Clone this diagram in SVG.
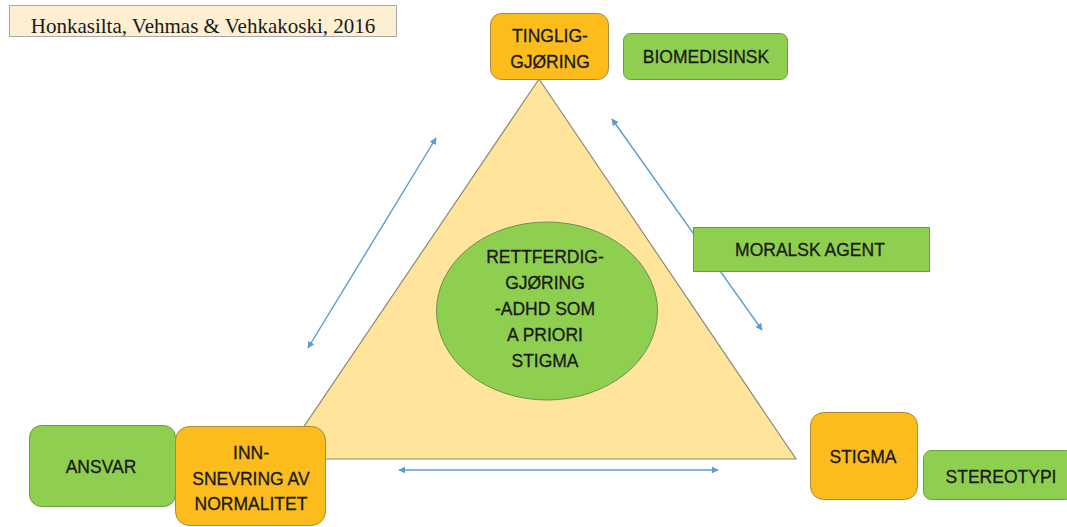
<svg xmlns="http://www.w3.org/2000/svg" width="1067" height="527" viewBox="0 0 1067 527">
  <defs>
    <marker id="head" viewBox="0 0 10 10" refX="9" refY="5" markerWidth="7" markerHeight="7" markerUnits="userSpaceOnUse" orient="auto-start-reverse">
      <path d="M0,0 L10,5 L0,10 z" fill="#5b9bd5"/>
    </marker>
  </defs>
  <style>
    .lbl { font-family: "Liberation Sans", Arial, sans-serif; font-size: 17.5px; fill: #1a1a1a; stroke: #1a1a1a; stroke-width: 0.3; text-anchor: middle; }
    .orange { fill: #fcbd1c; stroke: #a88a3a; stroke-width: 1; }
    .green { fill: #8fcf4f; stroke: #6f9a45; stroke-width: 1; }
    .arrow { stroke: #5b9bd5; stroke-width: 1.4; fill: none; marker-start: url(#head); marker-end: url(#head); }
  </style>
  <rect width="1067" height="527" fill="#ffffff"/>

  <!-- citation -->
  <g id="citation">
    <rect x="9.5" y="5.5" width="387" height="31" fill="#fdefd2" stroke="#a8a8a8" stroke-width="1"/>
    <text x="203" y="33" font-family="'Liberation Serif', 'Times New Roman', serif" font-size="21" fill="#1a1a1a" text-anchor="middle">Honkasilta, Vehmas &amp; Vehkakoski, 2016</text>
  </g>

  <!-- central triangle -->
  <g id="triangle">
    <polygon points="539,79 282,459 796,459" fill="#fee59b" stroke="#8f8a70" stroke-width="1.2"/>
  </g>

  <!-- centre ellipse -->
  <g id="center">
    <ellipse cx="547" cy="311" rx="110.5" ry="89" fill="#8fcf4f" stroke="#6f8f55" stroke-width="1"/>
    <text class="lbl" x="545" y="263">RETTFERDIG-</text>
    <text class="lbl" x="545" y="289">GJØRING</text>
    <text class="lbl" x="545" y="315">-ADHD SOM</text>
    <text class="lbl" x="545" y="341">A PRIORI</text>
    <text class="lbl" x="545" y="367">STIGMA</text>
  </g>

  <!-- connectors -->
  <g id="connectors">
    <line class="arrow" x1="308" y1="348" x2="436" y2="138"/>
    <line class="arrow" x1="612" y1="119" x2="762" y2="330"/>
    <line class="arrow" x1="399" y1="470" x2="718" y2="470"/>
  </g>

  <g id="tingliggjoring">
    <rect class="orange" x="490.5" y="13.5" width="118" height="66" rx="11"/>
    <text class="lbl" x="550" y="42">TINGLIG-</text>
    <text class="lbl" x="550" y="68">GJØRING</text>
  </g>

  <g id="biomedisinsk">
    <rect class="green" x="623.5" y="33.5" width="164" height="46" rx="7"/>
    <text class="lbl" x="706" y="63">BIOMEDISINSK</text>
  </g>

  <g id="moralsk-agent">
    <rect class="green" x="693.5" y="227.5" width="236" height="44"/>
    <text class="lbl" x="810" y="256">MORALSK AGENT</text>
  </g>

  <g id="ansvar">
    <rect class="green" x="29.5" y="425.5" width="146" height="81" rx="12"/>
    <text class="lbl" x="101" y="473">ANSVAR</text>
  </g>

  <g id="innsnevring">
    <rect class="orange" x="175.5" y="426.5" width="150" height="99" rx="14"/>
    <text class="lbl" x="251" y="459">INN-</text>
    <text class="lbl" x="251" y="485">SNEVRING AV</text>
    <text class="lbl" x="251" y="510">NORMALITET</text>
  </g>

  <g id="stigma">
    <rect class="orange" x="810.5" y="412.5" width="107" height="87" rx="13"/>
    <text class="lbl" x="863" y="463">STIGMA</text>
  </g>

  <g id="stereotypi">
    <rect class="green" x="923.5" y="450.5" width="150" height="49" rx="8"/>
    <text class="lbl" x="1001" y="483">STEREOTYPI</text>
  </g>
</svg>
